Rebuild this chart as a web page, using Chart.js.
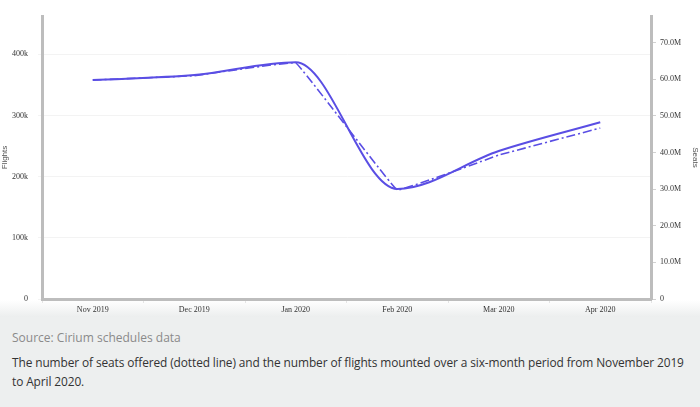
<!DOCTYPE html>
<html>
<head>
<meta charset="utf-8">
<script src="https://cdn.jsdelivr.net/npm/chart.js@4"></script>
<style>
  body { margin: 0; width: 700px; height: 407px; overflow: hidden; background: #fff; font-family: "Open Sans", sans-serif; }
  #wrap { position: relative; width: 700px; height: 317px; background: linear-gradient(to bottom, #fff 0px, #fff 300px, #eceeee 317px); }
  #caption { background: #edefef; height: 90px; padding: 0 14px 0 12px; box-sizing: border-box; }
  #src { color: #8a8a8a; font-size: 12px; padding-top: 13px; line-height: 16px; }
  #desc { color: #333; font-size: 11.9px; letter-spacing: -0.1px; line-height: 19px; margin-top: 7px; }
</style>
</head>
<body>
<div id="wrap"><canvas id="chart" width="700" height="317"></canvas></div>
<div id="caption">
  <div id="src">Source: Cirium schedules data</div>
  <div id="desc">The number of seats offered (dotted line) and the number of flights mounted over a six-month period from November 2019 to April 2020.</div>
</div>
<script>
let months = ["Nov 2019", "Dec 2019", "Jan 2020", "Feb 2020", "Mar 2020", "Apr 2020"]
let flights = [358000, 366000, 387000, 180000, 242000, 289000]
let seats = [59.8e6, 61.0e6, 64.5e6, 29.8e6, 39.3e6, 46.7e6]
let flightTicks = [0, 100000, 200000, 300000, 400000]
let seatTicks = [0, 10e6, 20e6, 30e6, 40e6, 50e6, 60e6, 70e6]

let lineColor = "#5a4ee4"
let tickFont = { family: "Liberation Serif", size: 8 }

let keepTicks = list => scale => {
    scale.ticks = list.map(v => ({ value: v }))
}

let ctx = document.getElementById("chart").getContext("2d")
let chart = new Chart(ctx, {
    type: "line",
    data: {
        labels: months,
        datasets: [{
            label: "Flights",
            data: flights,
            yAxisID: "yF",
            borderColor: lineColor,
            borderWidth: 2,
            pointRadius: 0,
            cubicInterpolationMode: "monotone",
            fill: false
        }, {
            label: "Seats",
            data: seats,
            yAxisID: "yS",
            borderColor: lineColor,
            borderWidth: 1.6,
            borderDash: [9, 3, 2, 3],
            pointRadius: 0,
            tension: 0.04,
            fill: false
        }]
    },
    options: {
        responsive: false,
        animation: false,
        layout: { padding: { top: 16, left: 0, right: 0, bottom: 0 } },
        plugins: { legend: { display: false }, tooltip: { enabled: false } },
        scales: {
            x: {
                offset: true,
                border: { display: true, color: "#bdbdbd", width: 3 },
                grid: { display: true, drawOnChartArea: false, drawTicks: true, tickLength: 4, color: "#e4e4e4", offset: true },
                ticks: { font: tickFont, color: "#333", padding: 2, maxRotation: 0 },
                afterFit: s => { s.height = 18 }
            },
            yF: {
                position: "left",
                min: 0,
                max: 462600,
                afterBuildTicks: keepTicks(flightTicks),
                border: { display: true, color: "#bdbdbd", width: 3 },
                grid: { color: "#f3f3f3", tickLength: 4, drawTicks: true },
                ticks: {
                    font: tickFont, color: "#333", padding: 10,
                    callback: v => v == 0 ? "0" : (v / 1000) + "k"
                },
                title: { display: true, text: "Flights", font: { family: "Liberation Sans", size: 8 }, color: "#555", padding: 0 },
                afterFit: s => { s.width = 42 }
            },
            yS: {
                position: "right",
                min: 0,
                max: 77.3e6,
                afterBuildTicks: keepTicks(seatTicks),
                border: { display: true, color: "#bdbdbd", width: 3 },
                grid: { drawOnChartArea: false, tickLength: 5, color: "#d0d0d0" },
                ticks: {
                    font: tickFont, color: "#333", padding: 4,
                    callback: v => v == 0 ? "0" : (v / 1e6).toFixed(1) + "M"
                },
                title: { display: true, text: "Seats", font: { family: "Liberation Sans", size: 8 }, color: "#555", padding: 0 },
                afterFit: s => { s.width = 49 }
            }
        }
    }
})
</script>
</body>
</html>
